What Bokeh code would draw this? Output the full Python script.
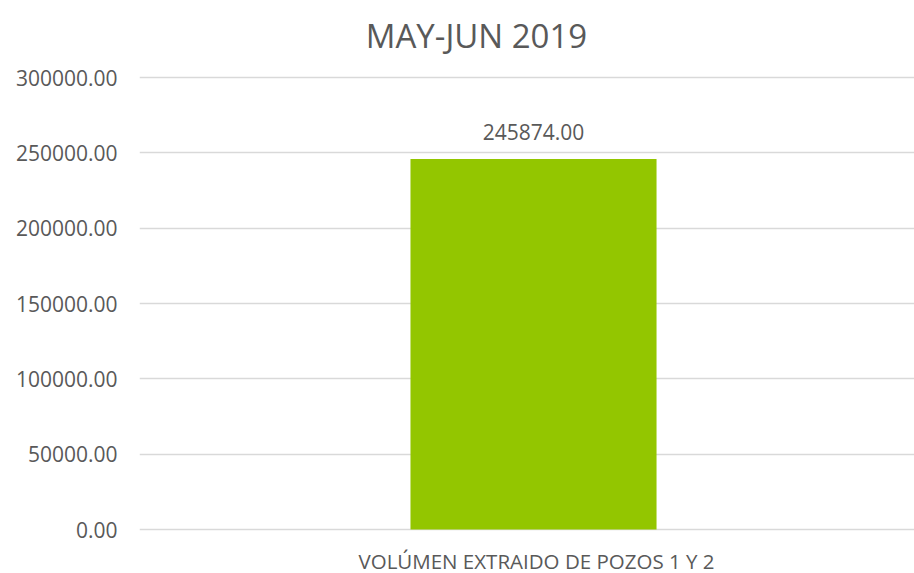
from bokeh.plotting import figure
from bokeh.models import Range1d, FixedTicker, NumeralTickFormatter, ColumnDataSource, LabelSet, Label
from bokeh.core.properties import value
from bokeh.embed import file_html
from bokeh.resources import INLINE

title_text = "MAY-JUN 2019"
categories = ["VOLÚMEN EXTRAIDO DE POZOS 1 Y 2"]
values = [245874.00]
y_ticks = [0, 50000, 100000, 150000, 200000, 250000, 300000]

FONT = "Open Sans"
TXT = "#595959"

# layout (pixels): plot area of the value axis spans rows 77..529 of a 573 px canvas
W, H = 914, 573
AX_TOP, AX_BOT, AX_LEFT = 77, 529, 139
upp = (y_ticks[-1] - y_ticks[0]) / (AX_BOT - AX_TOP)   # units per pixel
y_start = y_ticks[0] - (H - AX_BOT) * upp
y_end = y_ticks[-1] + AX_TOP * upp

xs = list(range(len(categories)))
src = ColumnDataSource(dict(x=xs, top=values, base=[0] * len(xs), cat=categories,
                            lbl=[f"{v:.2f}" for v in values]))

p = figure(width=W, height=H, output_backend="svg", toolbar_location=None,
           x_range=Range1d(-0.5084, 0.4916), y_range=Range1d(y_start, y_end),
           min_border_left=AX_LEFT, min_border_right=0, min_border_top=0, min_border_bottom=0)
p.outline_line_color = None
p.background_fill_color = "white"
p.border_fill_color = "white"

p.vbar(x="x", top="top", width=0.3175, source=src, color="#93C600", line_color=None)

labels = LabelSet(x="x", y="top", text="lbl", source=src, text_align="center",
                  y_offset=19, text_font=value(FONT), text_font_size="21px", text_color=TXT,
                  text_baseline="alphabetic")
p.add_layout(labels)

cat_labels = LabelSet(x="x", y="base", text="cat", source=src, text_align="center",
                      x_offset=3, y_offset=-39, text_font=value(FONT), text_font_size="20.5px",
                      text_color=TXT, text_baseline="alphabetic")
p.add_layout(cat_labels)

title = Label(x=476 - AX_LEFT, y=H - 35, x_units="screen", y_units="screen", text=title_text,
              text_align="center", text_baseline="alphabetic", text_font=FONT,
              text_font_size="33px", text_color=TXT)
p.add_layout(title)

p.yaxis.ticker = FixedTicker(ticks=y_ticks)
p.yaxis.formatter = NumeralTickFormatter(format="0.00")
p.yaxis.axis_line_color = None
p.yaxis.major_tick_line_color = None
p.yaxis.minor_tick_line_color = None
p.yaxis.major_tick_out = 0
p.yaxis.major_tick_in = 0
p.yaxis.major_label_text_font = FONT
p.yaxis.major_label_text_font_size = "21px"
p.yaxis.major_label_text_color = TXT
p.yaxis.major_label_standoff = 22

p.xaxis.visible = False

p.xgrid.grid_line_color = None
p.ygrid.ticker = FixedTicker(ticks=y_ticks)
p.ygrid.grid_line_color = "#D9D9D9"
p.ygrid.grid_line_width = 1.5

open("out.html", "w").write(file_html(p, INLINE))
